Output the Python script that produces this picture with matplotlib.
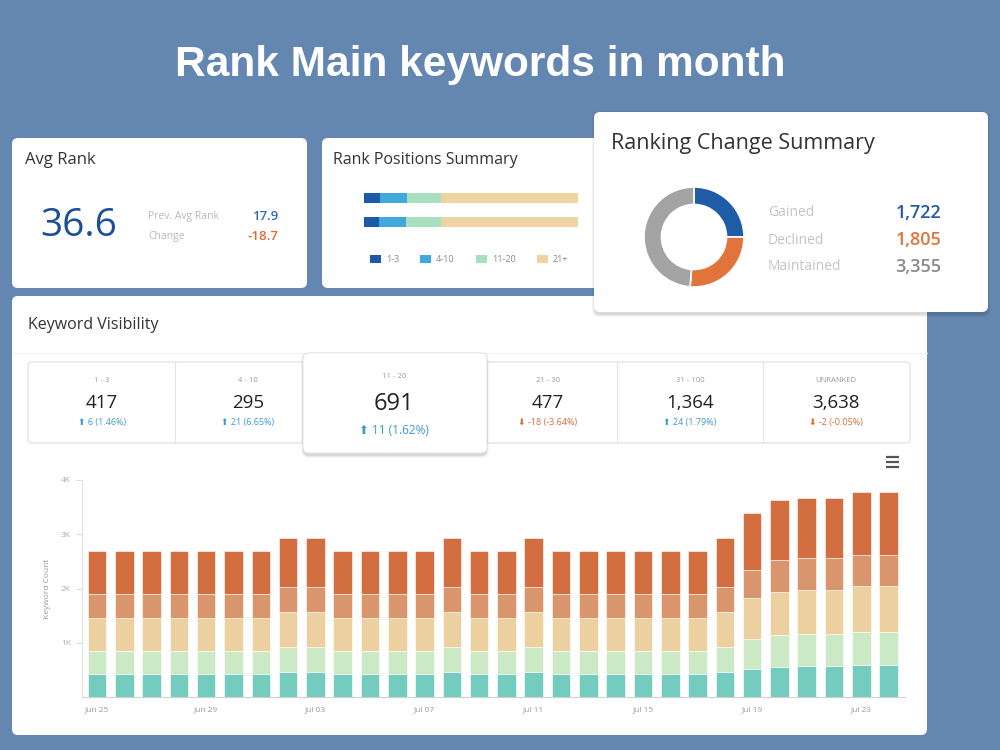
import matplotlib.pyplot as plt
from matplotlib.patches import FancyBboxPatch, Rectangle
import numpy as np

plt.rcParams["font.family"] = ["Open Sans", "DejaVu Sans"]

# ---- data ----
avg_rank = 36.6
prev_avg_rank = 17.9
avg_rank_change = -18.7

position_groups = ["1-3", "4-10", "11-20", "21+"]
share_current = [7.5, 12.6, 15.9, 64.0]
share_previous = [7.2, 12.6, 16.3, 63.9]

change_labels = ["Gained", "Declined", "Maintained"]
change_counts = [1722, 1805, 3355]

bucket_labels = ["1 - 3", "4 - 10", "11 - 20", "21 - 30", "31 - 100", "UNRANKED"]
bucket_counts = [417, 295, 691, 477, 1364, 3638]
bucket_delta = [6, 21, 11, -18, 24, -2]
bucket_delta_pct = [1.46, 6.65, 1.62, -3.64, 1.79, -0.05]

dates = ["Jun 25", "Jun 26", "Jun 27", "Jun 28", "Jun 29", "Jun 30", "Jul 01",
         "Jul 02", "Jul 03", "Jul 04", "Jul 05", "Jul 06", "Jul 07", "Jul 08",
         "Jul 09", "Jul 10", "Jul 11", "Jul 12", "Jul 13", "Jul 14", "Jul 15",
         "Jul 16", "Jul 17", "Jul 18", "Jul 19", "Jul 20", "Jul 21", "Jul 22",
         "Jul 23", "Jul 24"]
kw_1_3 = [425, 425, 425, 425, 425, 425, 425, 457, 457, 425, 425, 425, 425, 457, 425,
          425, 457, 425, 425, 425, 425, 425, 425, 457, 520, 560, 575, 575, 590, 590]
kw_4_10 = [430, 430, 430, 430, 430, 430, 430, 463, 463, 430, 430, 430, 430, 463, 430,
           430, 463, 430, 430, 430, 430, 430, 430, 463, 550, 575, 585, 585, 610, 610]
kw_11_20 = [605, 605, 605, 605, 605, 605, 605, 640, 640, 605, 605, 605, 605, 640, 605,
            605, 640, 605, 605, 605, 605, 605, 605, 640, 760, 805, 820, 820, 840, 840]
kw_21_30 = [430, 430, 430, 430, 430, 430, 430, 460, 460, 430, 430, 430, 430, 460, 430,
            430, 460, 430, 430, 430, 430, 430, 430, 460, 520, 580, 580, 580, 580, 580]
kw_31_100 = [810, 810, 810, 810, 810, 810, 810, 910, 910, 810, 810, 810, 810, 910, 810,
             810, 910, 810, 810, 810, 810, 810, 810, 910, 1050, 1110, 1110, 1110, 1160, 1160]

# ---- styling ----
BG = "#6487b1"
DARK = "#333333"
LIGHT = "#b8b8b8"
BLUE = "#1f5ca6"
UP = "#3a9ad3"
DOWN = "#de6a33"
W, H = 1000, 750

fig = plt.figure(figsize=(10, 7.5), dpi=100, facecolor=BG)
cv = fig.add_axes([0, 0, 1, 1])
cv.set_xlim(0, W)
cv.set_ylim(H, 0)
cv.axis("off")


def px_axes(x0, y0, x1, y1):
    return fig.add_axes([x0 / W, 1 - y1 / H, (x1 - x0) / W, (y1 - y0) / H])


def panel(x0, y0, x1, y1, r=6, shadow=False, z=1, ec="none"):
    if shadow:
        for i, a in enumerate([0.06, 0.05, 0.04]):
            cv.add_patch(FancyBboxPatch((x0 - i, y0 + 1 - i), x1 - x0 + 2 * i, y1 - y0 + 2 + 2 * i,
                                        boxstyle=f"round,pad=0,rounding_size={r + i}",
                                        fc="black", ec="none", alpha=a, zorder=z - 0.1))
    cv.add_patch(FancyBboxPatch((x0, y0), x1 - x0, y1 - y0,
                                boxstyle=f"round,pad=0,rounding_size={r}",
                                fc="white", ec=ec, lw=0.8, zorder=z))


cv.text(480, 65, "Rank Main keywords in month", color="white", fontsize=30.5,
        fontweight="bold", family="Liberation Sans", ha="center", va="center")

# panels
panel(12, 138, 307, 288)
panel(322, 138, 620, 288)
panel(12, 296, 927, 735)
panel(594, 112, 988, 312, shadow=True, z=2)

# Avg rank
cv.text(25, 160, "Avg Rank", fontsize=12, color=DARK, va="center", fontweight="medium", zorder=3)
cv.text(40, 226, f"{avg_rank}", fontsize=28, color="#1d4f94", va="center", zorder=3)
cv.text(148, 216, "Prev. Avg Rank", fontsize=7.5, color=LIGHT, va="center", zorder=3)
cv.text(148, 236, "Change", fontsize=7.5, color=LIGHT, va="center", zorder=3)
cv.text(278, 216, f"{prev_avg_rank}", fontsize=9.5, color="#2f6db5", ha="right",
        va="center", fontweight="semibold", zorder=3)
cv.text(278, 236, f"{avg_rank_change}", fontsize=9.5, color=DOWN, ha="right",
        va="center", fontweight="semibold", zorder=3)

# Rank positions summary
cv.text(333, 160, "Rank Positions Summary", fontsize=11.5, color=DARK, va="center",
        fontweight="medium", zorder=3)
pos_colors = ["#1b5aa5", "#40a8da", "#a9dfc1", "#efd3a2"]
axp = px_axes(364, 186, 578, 234)
for row, shares in enumerate([share_current, share_previous]):
    left = np.concatenate([[0], np.cumsum(shares)[:-1]])
    axp.barh(row, shares, left=left, height=0.42, color=pos_colors)
axp.set_xlim(0, 100)
axp.set_ylim(1.5, -0.5)
axp.axis("off")
for lx, name, c in zip([370, 420, 476, 537], position_groups, pos_colors):
    cv.add_patch(Rectangle((lx, 255), 11, 8, fc=c, ec="none", zorder=3))
    cv.text(lx + 16, 259.5, name, fontsize=6.5, color="#888888", va="center", zorder=3)

# Ranking change summary
cv.text(611, 143, "Ranking Change Summary", fontsize=15.5, color=DARK, va="center",
        fontweight="medium", zorder=3)
axd = px_axes(643, 186, 745, 288)
axd.pie(change_counts, colors=[BLUE, "#e0743a", "#a3a3a3"], startangle=90,
        counterclock=False, radius=1,
        wedgeprops=dict(width=0.35, edgecolor="white", linewidth=1.2))
axd.set_xlim(-1.02, 1.02)
axd.set_ylim(-1.02, 1.02)
axd.set_zorder(5)
val_colors = [BLUE, "#e0743a", "#8a8a8a"]
for i, (lab, v) in enumerate(zip(change_labels, change_counts)):
    y = 213 + 27 * i
    cv.text(768, y, lab, fontsize=10, color="#c4c4c4", va="center", zorder=3)
    cv.text(941, y, f"{v:,}", fontsize=13, color=val_colors[i], ha="right",
            va="center", fontweight="semibold", zorder=3)

# Keyword visibility
cv.text(28, 325, "Keyword Visibility", fontsize=11.5, color=DARK, va="center",
        fontweight="medium", zorder=3)
cv.plot([12, 927], [353, 353], color="#f2f2f2", lw=0.8, zorder=3)
cv.add_patch(FancyBboxPatch((28, 362), 882, 81, boxstyle="round,pad=0,rounding_size=4",
                            fc="white", ec="#dedede", lw=0.8, zorder=3))
for xd in [175, 302, 487, 617, 763]:
    cv.plot([xd, xd], [362, 443], color="#e4e4e4", lw=0.8, zorder=3.1)
# raised cell
for i, a in enumerate([0.07, 0.05, 0.03]):
    cv.add_patch(FancyBboxPatch((303 - i, 353 + 1 - i), 184 + 2 * i, 100 + 2 + 2 * i,
                                boxstyle=f"round,pad=0,rounding_size={6 + i}",
                                fc="black", ec="none", alpha=a, zorder=3.5))
cv.add_patch(FancyBboxPatch((303, 353), 184, 100, boxstyle="round,pad=0,rounding_size=6",
                            fc="white", ec="#e2e2e2", lw=0.6, zorder=3.6))

centers = [102, 248, 394, 548, 690, 836]
for i, cx in enumerate(centers):
    raised = i == 2
    d = bucket_delta[i]
    arrow = "⬆" if d > 0 else "⬇"
    col = UP if d > 0 else DOWN
    cv.text(cx, 376 if raised else 381, bucket_labels[i], fontsize=5.5, color="#999999",
            ha="center", va="center", zorder=4)
    cv.text(cx, 404 if raised else 403, f"{bucket_counts[i]:,}", fontsize=17 if raised else 13.5,
            color="#222222", ha="center", va="center", zorder=4)
    cv.text(cx, 430 if raised else 423, f"{arrow} {d} ({bucket_delta_pct[i]:.2f}%)",
            fontsize=8.5 if raised else 6.5, color=col, ha="center", va="center", zorder=4)

# hamburger menu
for yy in [457, 462, 467]:
    cv.plot([886, 899], [yy, yy], color="#555555", lw=1.6, zorder=3, solid_capstyle="butt")

# stacked bar chart
ax = px_axes(82, 480, 905, 697)
ax.set_zorder(4)
ax.patch.set_alpha(0)
x = np.arange(len(dates))
layers = [kw_1_3, kw_4_10, kw_11_20, kw_21_30, kw_31_100]
layer_colors = ["#74ccbf", "#cbe9c5", "#ecd09f", "#d9956b", "#d26e40"]
bottom = np.zeros(len(dates))
for vals, c in zip(layers, layer_colors):
    ax.bar(x, vals, bottom=bottom, width=0.68, color=c, edgecolor="white", linewidth=0.4)
    bottom += np.array(vals)
ax.set_xlim(-0.55, 29.6)
ax.set_ylim(0, 4000)
ax.set_yticks([1000, 2000, 3000, 4000])
ax.set_yticklabels(["1K", "2K", "3K", "4K"])
ax.set_xticks(x[::4])
ax.set_xticklabels(dates[::4])
ax.tick_params(axis="y", length=4, color="#dddddd", labelsize=6, labelcolor="#aaaaaa", pad=4)
ax.tick_params(axis="x", length=0, labelsize=6, labelcolor="#999999", pad=7)
ax.set_ylabel("Keyword Count", fontsize=6, color="#999999", labelpad=7)
for s in ["top", "right"]:
    ax.spines[s].set_visible(False)
ax.spines["left"].set_color("#e2e2e2")
ax.spines["bottom"].set_color("#d0d0d0")
ax.spines["left"].set_linewidth(0.8)
ax.spines["bottom"].set_linewidth(0.8)

fig.savefig("out.png", dpi=100, facecolor=BG)
